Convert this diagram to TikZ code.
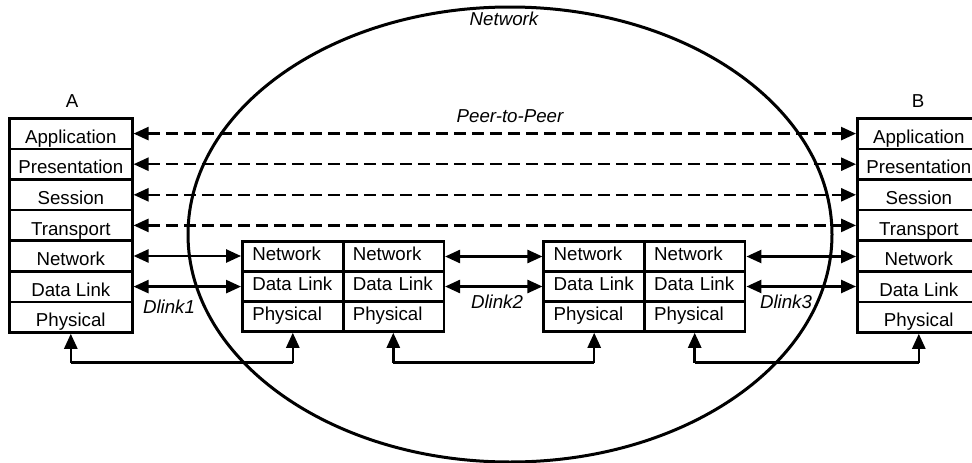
\documentclass[tikz,border=0pt]{standalone}
\usepackage{fontspec}
\setmainfont{Liberation Sans}
\usetikzlibrary{arrows.meta,shapes.geometric}
\begin{document}
\begin{tikzpicture}[x=1pt,y=-1pt,
  font=\fontsize{18.7}{20}\selectfont,
  layer/.style={draw,line width=2.5pt,minimum width=123pt,minimum height=30.6pt,inner sep=0pt,text height=19.2pt,text depth=0pt},
  cell/.style={draw,line width=2.5pt,minimum height=30pt,inner ysep=0pt,inner xsep=10pt,align=left,text height=7.2pt,text depth=0pt},
  lbl/.style={font=\fontsize{18.7}{20}\selectfont\itshape,inner sep=0pt},
  tip/.tip={Triangle[length=15pt,width=13pt]},
  conn/.style={line width=2.5pt,tip-tip},
  dconn/.style={conn,dash pattern=on 12pt off 6pt},
  up/.style={line width=2.5pt,-tip}
]
\useasboundingbox (0,0) rectangle (972,463);
\clip (0,0) rectangle (972,463);
% network cloud
\node[draw,ellipse,line width=3pt,minimum width=644pt,minimum height=455pt,inner sep=0pt] (net) at (510,234.5) {};
\node[lbl] (nettitle) at (504,18.5) {Network};
\node[lbl] (p2p) at (510,116) {Peer-to-Peer};
% stacks A and B
\node[inner sep=0pt] (A) at (72,101) {A};
\foreach \i/\t in {1/Application,2/Presentation,3/Session,4/Transport,5/Network,6/Data Link,7/Physical}{
  \node[layer] (a\i) at (70.8,{118.3+15.3+(\i-1)*30.6}) {\t};
  \node[layer] (b\i) at (918.8,{118.3+15.3+(\i-1)*30.6}) {\t};
}
\node[inner sep=0pt] (B) at (918,101) {B};
% intermediate nodes
\foreach \n/\x in {l1/292.8,r1/393.3,l2/594.2,r2/694.7}{
  \node[cell,text width=81pt] (\n n) at (\x,256.5) {Network};
  \node[cell,text width=81pt] (\n d) at (\x,286.5) {Data Link};
  \node[cell,text width=81pt] (\n p) at (\x,316.5) {Physical};
}
% peer-to-peer dashed
\foreach \i in {1,2,3,4}{
  \draw[dconn] (a\i.east) -- (b\i.west);
}
% network / data link links
\draw[conn] (a5.east) -- (a5.east -| l1n.west);
\draw[conn] (a6.east) -- (a6.east -| l1d.west);
\draw[conn] (r1n.east) -- (l2n.west);
\draw[conn] (r1d.east) -- (l2d.west);
\draw[conn] (r2n.east) -- (r2n.east -| b5.west);
\draw[conn] (r2d.east) -- (r2d.east -| b6.west);
\node[lbl] (dl1) at (169,307) {Dlink1};
\node[lbl] (dl2) at (497,302) {Dlink2};
\node[lbl] (dl3) at (786,302) {Dlink3};
% physical links
\coordinate (p1) at (70.8,362.7);
\coordinate (p2) at (292.8,362.7);
\coordinate (p3) at (393.3,362.7);
\coordinate (p4) at (594.2,362.7);
\coordinate (p5) at (694.7,362.7);
\coordinate (p6) at (918.8,362.7);
\draw[line width=2.5pt] (p1) -- (p2);
\draw[line width=2.5pt] (p3) -- (p4);
\draw[line width=2.5pt] (p5) -- (p6);
\draw[up] (p1) -- (a7.south);
\draw[up] (p2) -- (l1p.south);
\draw[up] (p3) -- (r1p.south);
\draw[up] (p4) -- (l2p.south);
\draw[up] (p5) -- (r2p.south);
\draw[up] (p6) -- (b7.south);
\end{tikzpicture}
\end{document}
